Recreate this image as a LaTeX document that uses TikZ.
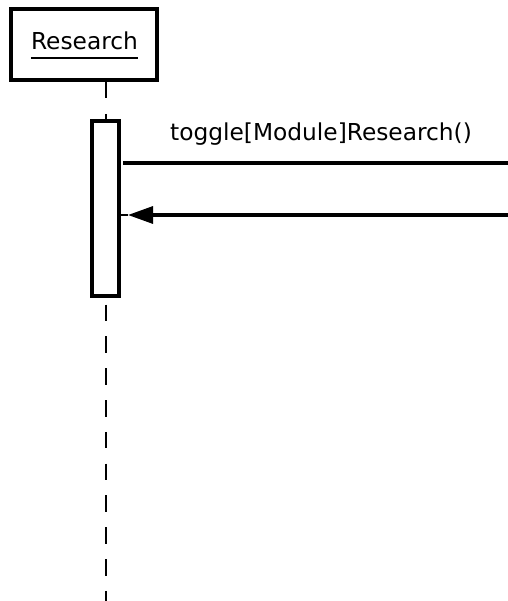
\documentclass[tikz,border=0pt]{standalone}
\usepackage{fontspec}
\setmainfont{DejaVu Sans}
\usetikzlibrary{arrows.meta}
\begin{document}
\begin{tikzpicture}[x=1pt,y=-1pt,
  heavy/.style={line width=4pt},
  msg/.style={line width=3.2pt},
  lifeline/.style={line width=2pt, dash pattern=on 16.5pt off 15.3pt},
  lbl/.style={inner sep=0pt, font=\fontsize{23.3}{28}\selectfont}]
\useasboundingbox (0,0) rectangle (507,601);
% object head
\node[draw, heavy, minimum width=146pt, minimum height=71pt, inner sep=0pt] (head) at (84,44.5) {};
\node[lbl, anchor=base] (name) at (84.5,50) {Research};
\draw[line width=2.2pt] ([yshift=-8pt]name.base west) -- ([yshift=-8pt]name.base east);
% lifeline
\coordinate (lifetop) at (105.5,82);
\coordinate (lifeend) at (105.5,601);
\draw[lifeline] (lifetop) -- (lifeend);
% activation bar
\node[draw, heavy, fill=white, minimum width=27pt, minimum height=175pt, inner sep=0pt] (act) at (105.5,208.5) {};
% outgoing call
\coordinate (callend) at (512,163);
\draw[msg, shorten <=2pt] (act.east |- callend) -- (callend);
\node[lbl, anchor=base] (calllbl) at (321,141) {toggle[Module]Research()};
% return
\coordinate (retstart) at (512,215);
\coordinate (rettip) at (128,215);
\draw[line width=1.4pt] (act.east |- rettip) -- (rettip);
\draw[msg, -{Triangle[length=25pt,width=17pt]}] (retstart) -- (rettip);
\end{tikzpicture}
\end{document}
